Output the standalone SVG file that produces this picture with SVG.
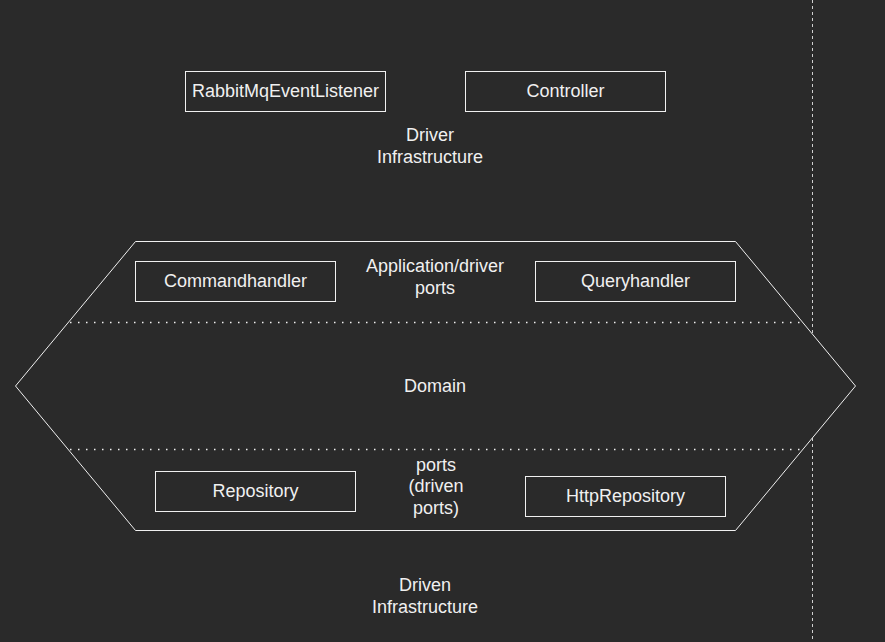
<svg xmlns="http://www.w3.org/2000/svg" width="885" height="642" viewBox="0 0 885 642">
  <style>
    .box { fill: #2a2a2a; stroke: #f0f0f0; stroke-width: 1; }
    .lbl { font-family: "Liberation Sans", Arial, sans-serif; font-size: 18px; fill: #f0f0f0; text-anchor: middle; }
    .dots { stroke: #f0f0f0; stroke-width: 1.5; stroke-dasharray: 1.5 6.5; fill: none; }
  </style>
  <rect width="885" height="642" fill="#2a2a2a"/>

  <g id="boundary">
    <line x1="812.5" y1="0" x2="812.5" y2="642" stroke="#d0d0d0" stroke-width="1" stroke-dasharray="3 3"/>
  </g>

  <g id="hexagon">
    <polygon class="box" points="135.5,241.5 735.5,241.5 855.5,386 735.5,530.5 135.5,530.5 15.5,386"/>
  </g>

  <g id="separators">
    <line class="dots" x1="70" y1="322.5" x2="801" y2="322.5"/>
    <line class="dots" x1="70" y1="449.5" x2="801" y2="449.5"/>
  </g>

  <g id="driver-infrastructure">
    <text class="lbl" x="430" y="140.5">Driver</text>
    <text class="lbl" x="430" y="162.5">Infrastructure</text>
  </g>

  <g id="rabbit">
    <rect class="box" x="185.5" y="71.5" width="200" height="40"/>
    <text class="lbl" x="285.5" y="97">RabbitMqEventListener</text>
  </g>

  <g id="controller">
    <rect class="box" x="465.5" y="71.5" width="200" height="40"/>
    <text class="lbl" x="565.5" y="97">Controller</text>
  </g>

  <g id="application-ports">
    <text class="lbl" x="435" y="271.5">Application/driver</text>
    <text class="lbl" x="435" y="293.5">ports</text>
  </g>

  <g id="commandhandler">
    <rect class="box" x="135.5" y="261.5" width="200" height="40"/>
    <text class="lbl" x="235.5" y="287">Commandhandler</text>
  </g>

  <g id="queryhandler">
    <rect class="box" x="535.5" y="261.5" width="200" height="40"/>
    <text class="lbl" x="635.5" y="287">Queryhandler</text>
  </g>

  <g id="domain">
    <text class="lbl" x="435" y="392">Domain</text>
  </g>

  <g id="driven-ports">
    <text class="lbl" x="436" y="470.5">ports</text>
    <text class="lbl" x="436" y="492">(driven</text>
    <text class="lbl" x="436" y="513.5">ports)</text>
  </g>

  <g id="repository">
    <rect class="box" x="155.5" y="471.5" width="200" height="40"/>
    <text class="lbl" x="255.5" y="497">Repository</text>
  </g>

  <g id="httprepository">
    <rect class="box" x="525.5" y="476.5" width="200" height="40"/>
    <text class="lbl" x="625.5" y="502">HttpRepository</text>
  </g>

  <g id="driven-infrastructure">
    <text class="lbl" x="425" y="590.5">Driven</text>
    <text class="lbl" x="425" y="612.5">Infrastructure</text>
  </g>
</svg>
